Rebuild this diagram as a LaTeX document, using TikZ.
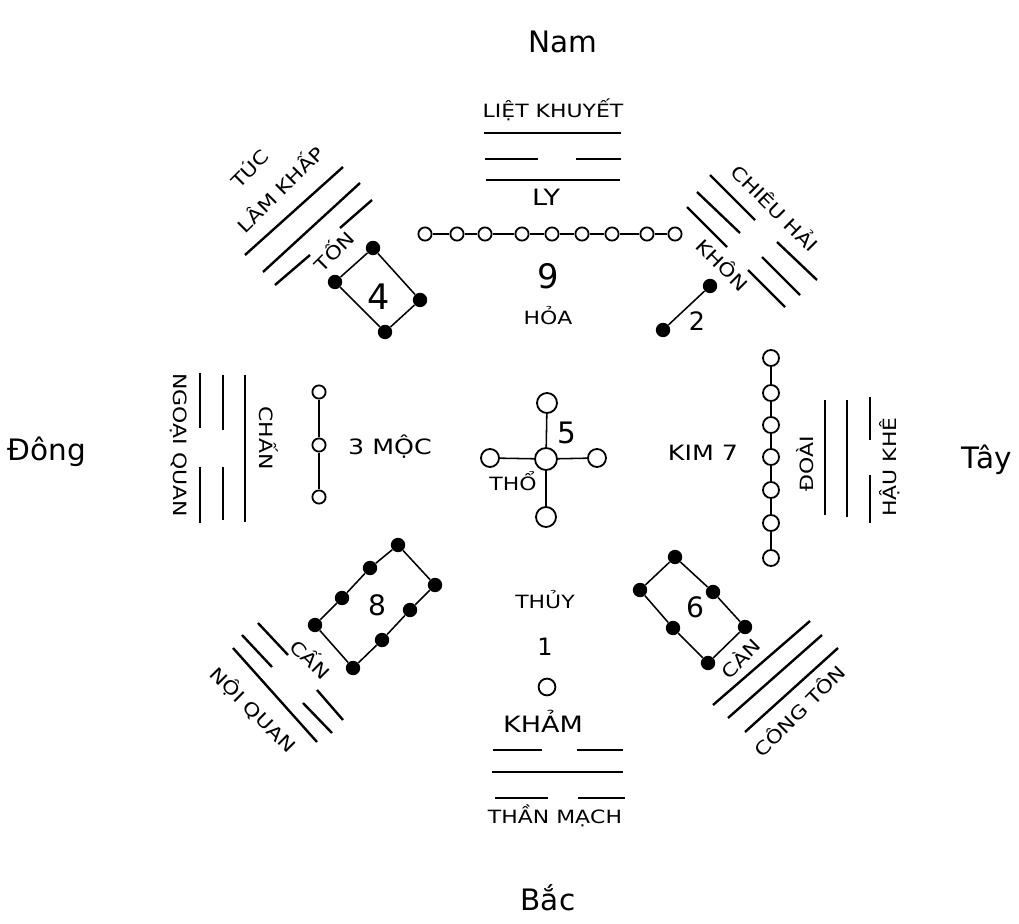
\documentclass[tikz,border=0pt]{standalone}
\usepackage{fontspec}
\setmainfont{DejaVu Sans}
\newfontfamily\lbf{DejaVu Sans}[FakeStretch=1.2]
\begin{document}
\begin{tikzpicture}[x=0.025cm,y=-0.025cm,
 oc/.style={circle,draw,line width=1.3pt,inner sep=0pt,minimum size=#1},
 oc/.default=0.34cm,
 fc/.style={circle,fill=black,inner sep=0pt,minimum size=0.36cm},
 tri/.style={line width=1.7pt},
 link/.style={line width=1.1pt},
 lab/.style={font=\lbf\fontsize{13}{14}\selectfont,inner sep=0pt},
 biglab/.style={font=\lbf\fontsize{#1}{16}\selectfont,inner sep=0pt},
 num/.style={font=\fontsize{#1}{#1}\selectfont,inner sep=0pt},
 dirlab/.style={font=\fontsize{21}{24}\selectfont,inner sep=0pt}]
\useasboundingbox (0,0) rectangle (1019,924);

% directions
\node[dirlab] (nam) at (563,42) {Nam};
\node[dirlab] (dong) at (47,452) {Đông};
\node[dirlab] (tay) at (987,460) {Tây};
\node[dirlab] (bac) at (548,898) {Bắc};

% ---- Ly (top)
\node[lab] (lk) at (553,110) {LIỆT KHUYẾT};
\draw[tri] (484,133) -- (621,133);
\draw[tri] (485,159) -- (538,159) (576,159) -- (621,159);
\draw[tri] (486,180) -- (620,180);
\node[biglab=16] (ly) at (546,197) {LY};
\foreach \x [count=\i] in {425,457,485,522,552,582,612,647,675}
  \node[oc=0.33cm] (l\i) at (\x,234) {};
\foreach \i [evaluate=\i as \j using int(\i+1)] in {1,...,8}
  \draw[link] (l\i) -- (l\j);
\node[num=24] (n9) at (548,276) {9};
\node[lab] (hoa) at (548,316) {HỎA};

% ---- Ton (top-left)
\draw[tri] (245,255) -- (343,167);
\draw[tri] (263,272) -- (360,183);
\draw[tri] (275,285) -- (310,255) (340,228) -- (372,200);
\node[lab,rotate=45] (tuc) at (249,168) {TÚC};
\node[lab,rotate=45] (lamkhap) at (279,188) {LÂM KHẤP};
\node[lab,rotate=45] (ton) at (333,250) {TỐN};
\node[fc] (t1) at (373,248) {};
\node[fc] (t2) at (335,282) {};
\node[fc] (t3) at (385,332) {};
\node[fc] (t4) at (420,300) {};
\draw[link] (t1) -- (t2) -- (t3) -- (t4) -- (t1);
\node[num=25] (n4) at (379,297) {4};

% ---- Khon (top-right)
\draw[tri] (710,175) -- (755,220) (777,242) -- (817,280);
\draw[tri] (697,192) -- (740,233) (762,257) -- (800,295);
\draw[tri] (687,207) -- (727,247) (748,270) -- (785,307);
\node[lab,rotate=-45] (chieuhai) at (776,207) {CHIÊU HẢI};
\node[lab,rotate=-45] (khon) at (723,264) {KHÔN};
\node[fc] (k1) at (710,286) {};
\node[fc] (k2) at (663,330) {};
\draw[link] (k1) -- (k2);
\node[num=18] (n2) at (697,321) {2};

% ---- Chan (left)
\draw[tri] (200,373) -- (200,428) (200,467) -- (200,523);
\draw[tri] (223,375) -- (223,430) (223,467) -- (223,520);
\draw[tri] (245,375) -- (245,522);
\node[lab,rotate=-90] (ngoaiquan) at (179,445) {NGOẠI QUAN};
\node[lab,rotate=-90] (chan) at (269,438) {CHẤN};
\node[oc=0.33cm] (h1) at (319,392) {};
\node[oc=0.33cm] (h2) at (319,445) {};
\node[oc=0.33cm] (h3) at (319,497) {};
\draw[link] (h1) -- (h2) -- (h3);
\node[biglab=15] (moc) at (390,447) {3 MỘC};

% ---- center
\node[oc=0.55cm] (c0) at (546,459) {};
\node[oc=0.5cm] (ct) at (547,403) {};
\node[oc=0.5cm] (cb) at (546,517) {};
\node[oc=0.45cm] (cl) at (490,458) {};
\node[oc=0.45cm] (cr) at (597,458) {};
\draw[link] (c0) -- (ct) (c0) -- (cb) (c0) -- (cl) (c0) -- (cr);
\node[num=21] (n5) at (567,433) {5};
\node[lab] (tho) at (513,481) {THỔ};

% ---- Doai (right)
\draw[tri] (825,400) -- (825,515);
\draw[tri] (847,400) -- (847,517);
\draw[tri] (870,397) -- (870,440) (870,475) -- (870,523);
\node[lab,rotate=90] (doai) at (805,464) {ĐOÀI};
\node[lab,rotate=90] (haukhe) at (890,467) {HẬU KHÊ};
\foreach \y [count=\i] in {358,393,425,457,490,523,558}
  \node[oc=0.4cm] (d\i) at (771,\y) {};
\foreach \i [evaluate=\i as \j using int(\i+1)] in {1,...,6}
  \draw[link] (d\i) -- (d\j);
\node[biglab=15] (kim) at (703,453) {KIM 7};

% ---- Can (bottom-left)
\draw[tri] (233,648) -- (317,742);
\draw[tri] (242,635) -- (272,667) (303,703) -- (332,733);
\draw[tri] (258,623) -- (288,655) (317,690) -- (343,720);
\node[lab,rotate=-45] (canbl) at (312,658) {CẤN};
\node[lab,rotate=-45] (noiquan) at (253,710) {NỘI QUAN};
\node[fc] (g1) at (398,545) {};
\node[fc] (g2) at (370,568) {};
\node[fc] (g3) at (342,598) {};
\node[fc] (g4) at (315,625) {};
\node[fc] (g5) at (353,668) {};
\node[fc] (g6) at (382,640) {};
\node[fc] (g7) at (410,610) {};
\node[fc] (g8) at (435,585) {};
\draw[link] (g1) -- (g2) -- (g3) -- (g4) -- (g5) -- (g6) -- (g7) -- (g8) -- (g1);
\node[num=20] (n8) at (377,605) {8};

% ---- Can (bottom-right)
\draw[tri] (713,705) -- (810,621);
\draw[tri] (728,718) -- (822,635);
\draw[tri] (745,732) -- (838,648);
\node[lab,rotate=45] (canbr) at (740,658) {CÀN};
\node[lab,rotate=45] (congton) at (799,710) {CÔNG TÔN};
\node[fc] (s1) at (675,557) {};
\node[fc] (s2) at (713,592) {};
\node[fc] (s3) at (745,627) {};
\node[fc] (s4) at (708,663) {};
\node[fc] (s5) at (673,628) {};
\node[fc] (s6) at (640,590) {};
\draw[link] (s1) -- (s2) -- (s3) -- (s4) -- (s5) -- (s6) -- (s1);
\node[num=20] (n6) at (695,607) {6};

% ---- Kham (bottom)
\node[lab] (thuy) at (545,600) {THỦY};
\node[num=17] (n1) at (545,647) {1};
\node[oc=0.42cm] (kc) at (547,687) {};
\node[biglab=16] (kham) at (543,721) {KHẢM};
\draw[tri] (493,750) -- (542,750) (577,750) -- (623,750);
\draw[tri] (492,772) -- (623,772);
\draw[tri] (495,798) -- (548,798) (578,798) -- (625,798);
\node[lab] (thanmach) at (555,816) {THẦN MẠCH};
\end{tikzpicture}
\end{document}
